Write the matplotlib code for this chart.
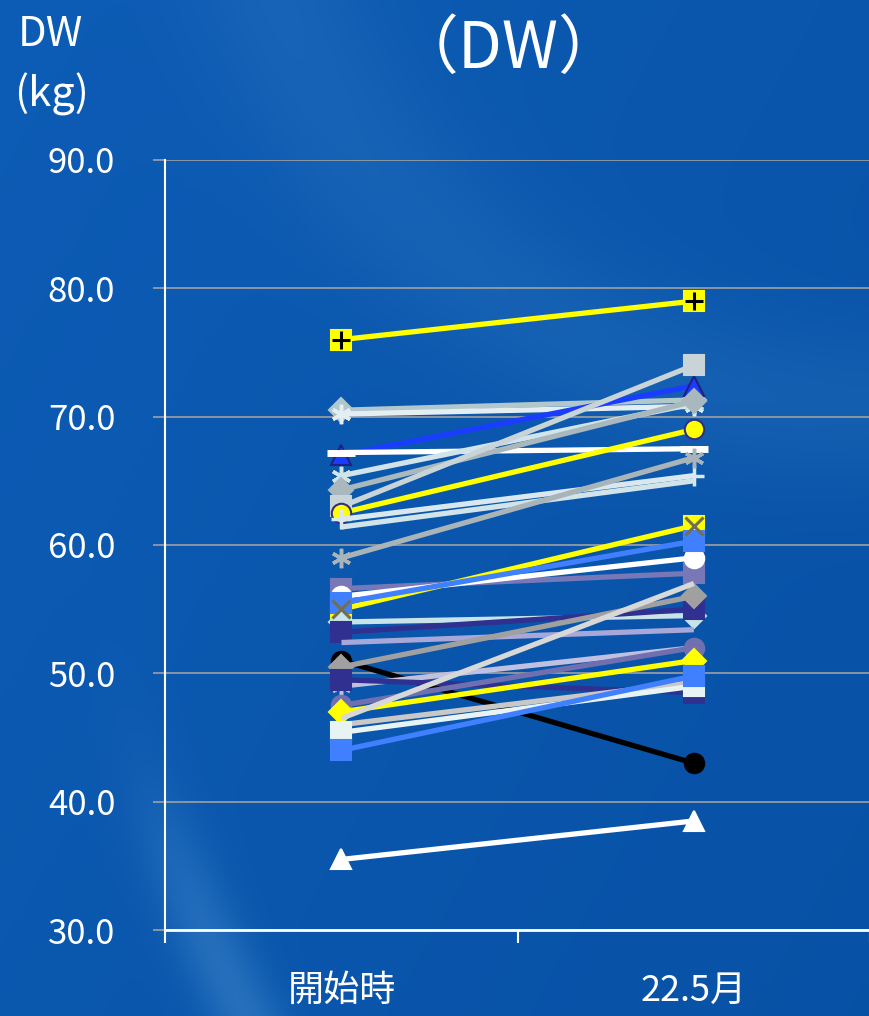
import numpy as np
import matplotlib.pyplot as plt

plt.rcParams['font.family'] = ['Noto Sans CJK JP', 'DejaVu Sans']

categories = ["開始時", "22.5月"]
start_dw = [76.0, 70.5, 70.2, 67.0, 67.2, 65.4, 64.3, 63.0, 62.5, 62.0,
            61.4, 59.0, 56.6, 56.0, 55.0, 55.5, 54.0, 53.2, 52.4, 51.0,
            50.5, 49.0, 49.5, 47.5, 47.0, 46.5, 46.0, 45.4, 44.0, 35.5]
end_dw = [79.0, 71.3, 70.8, 72.4, 67.5, 71.0, 71.2, 74.0, 69.0, 65.4,
          65.0, 66.8, 57.8, 59.0, 61.5, 60.3, 54.5, 55.0, 53.4, 43.0,
          56.0, 52.0, 48.5, 52.0, 51.0, 57.0, 49.3, 49.0, 49.8, 38.5]

ASTER = (6, 2, 0)
line_colors = ['#ffff00', '#b0c8cc', '#e4eef2', '#1a3cff', '#ffffff', '#d0e4ea',
               '#a8b8bc', '#c8d4d8', '#ffff00', '#d8e8ee', '#d0e4ea', '#a8b4b8',
               '#7878b8', '#ffffff', '#ffff00', '#4080ff', '#c8e4e8', '#303090',
               '#a8a8d8', '#000000', '#a0a0a0', '#c0c0e0', '#303090', '#7070b0',
               '#ffff00', '#d8d8d8', '#c8c8c8', '#e8f4f4', '#4080ff', '#ffffff']
markers = ['s', 'D', ASTER, '^', '_', ASTER, 'D', 's', 'o', '+',
           None, ASTER, 's', 'o', 's', 's', 'D', 's', None, 'o',
           'D', ASTER, 's', 'o', 'D', None, None, 's', 's', '^']
edge_colors = {3: '#202080', 8: '#303080'}
overlays = {0: ('+', '#000000'), 14: ('x', '#707050')}

fig = plt.figure(figsize=(8.7, 10.16), dpi=100)

# background: blue gradient with faint lighter swooshes
bg = fig.add_axes([0, 0, 1, 1], zorder=-5)
yy, xx = np.mgrid[0:1:400j, 0:1:350j]
base = np.array([0.05, 0.36, 0.71])
dark = np.array([0.03, 0.32, 0.65])
t = (xx * 0.6 + yy * 0.4)[..., None]
img = base * (1 - t) + dark * t
r1 = np.sqrt((xx - 1.6) ** 2 + ((yy - 0.35) * 1.1) ** 2)
band = np.exp(-((r1 - 1.5) / 0.04) ** 2) / (1 + np.exp(-(yy - 0.82) / 0.05))
r2 = np.sqrt((xx - 1.0) ** 2 + ((yy + 0.2) * 1.2) ** 2)
arc = np.exp(-((r2 - 0.72) / 0.1) ** 2) * 0.35
glow = (band * 0.9 + arc)[..., None]
img = img * (1 - 0.4 * glow) + np.array([0.35, 0.62, 0.85]) * 0.4 * glow
bg.imshow(np.clip(img, 0, 1), extent=[0, 1, 0, 1], aspect='auto', origin='upper')
bg.axis('off')

ax = fig.add_axes([0.19, 0.0846, 0.81, 0.758])
ax.set_facecolor('none')
x = [0, 1]
for i in range(len(start_dw)):
    c = line_colors[i]
    ec = edge_colors.get(i, c)
    m = markers[i]
    ms = 14
    mew = 1.5
    if m == 'D':
        ms = 12
    if m == ASTER or m in ('+', 'x'):
        mew = 2.5
    if m == '_':
        ms = 20
        mew = 5
    ax.plot(x, [start_dw[i], end_dw[i]], color=c, lw=3.8, marker=m,
            markersize=ms, markerfacecolor=c, markeredgecolor=ec,
            markeredgewidth=mew, solid_capstyle='butt', zorder=3)
    if i in overlays:
        om, oc = overlays[i]
        ax.plot(x, [start_dw[i], end_dw[i]], ls='none', marker=om,
                markersize=13, markeredgecolor=oc, markeredgewidth=2.2, zorder=4)

ax.set_xlim(-0.5, 1.5)
ax.set_ylim(30, 90)
ax.set_yticks(np.arange(30, 91, 10))
ax.set_yticklabels([f"{v:.1f}" for v in np.arange(30, 91, 10)])
ax.set_xticks([-0.5, 0.5, 1.5])
ax.set_xticklabels([])
ax.set_xticks([0, 1], minor=True)
ax.set_xticklabels(categories, minor=True)
ax.tick_params(axis='x', which='major', length=9, width=1.5, color='white')
ax.tick_params(axis='x', which='minor', length=0, pad=31, labelsize=26, labelcolor='white')
ax.tick_params(axis='y', length=9, width=1.2, color='#a0a0a0', labelsize=25,
               labelcolor='white', pad=27)
ax.grid(axis='y', color='#a0a0a0', lw=1.2)
ax.set_axisbelow(True)
for s in ['top', 'right']:
    ax.spines[s].set_visible(False)
ax.spines['left'].set_color('white')
ax.spines['left'].set_linewidth(1.5)
ax.spines['bottom'].set_color('white')
ax.spines['bottom'].set_linewidth(2)

fig.text(0.584, 0.951, "（DW）", color='white', fontsize=46, ha='center', va='center')
fig.text(0.058, 0.966, "DW", color='white', fontsize=30, ha='center', va='center')
fig.text(0.059, 0.907, "(kg)", color='white', fontsize=30, ha='center', va='center')

fig.savefig("out.png", dpi=100)
